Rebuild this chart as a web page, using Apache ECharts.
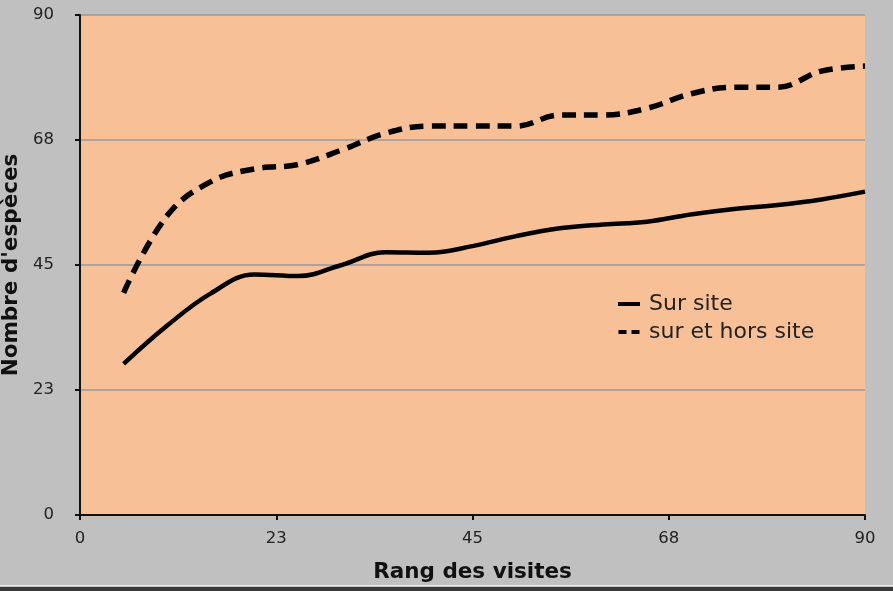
<!DOCTYPE html>
<html>
<head>
<meta charset="utf-8">
<script src="https://cdn.jsdelivr.net/npm/echarts@6/dist/echarts.min.js"></script>
<style>
html, body { margin: 0; padding: 0; background: #c0c0c0; }
#main { width: 893px; height: 591px; }
</style>
</head>
<body>
<div id="main"></div>
<script>
// rang des visites
var visites = [5, 10, 15, 20, 25, 30, 35, 40, 45, 50, 55, 60, 65, 70, 75, 80, 85, 90];
// nombre d'especes
var surSite = [27.2, 34.1, 39.9, 43.3, 43.0, 45.0, 47.3, 47.2, 48.4, 50.2, 51.6, 52.3, 52.8, 54.1, 55.1, 55.8, 56.8, 58.2];
var surEtHors = [40.0, 53.9, 60.0, 62.3, 63.1, 65.7, 68.7, 70.0, 70.0, 70.0, 72.0, 72.0, 73.2, 75.8, 77.0, 77.0, 79.9, 80.8];
var ticks = [0, 23, 45, 68, 90];

function pairs(xs, ys) {
    return xs.map(function (x, i) { return [x, ys[i]]; });
}
function tickLabel(v) {
    return String(Math.round(v));
}

var chart = echarts.init(document.getElementById('main'));
var font = 'DejaVu Sans, Verdana, sans-serif';

option = {
    backgroundColor: '#c0c0c0',
    animation: false,
    textStyle: { fontFamily: font },
    grid: {
        left: 80, right: 28, top: 15, bottom: 76,
        outerBoundsMode: 'none',
        containLabel: false,
        show: true,
        backgroundColor: '#f8c096',
        borderWidth: 0
    },
    legend: {
        orient: 'vertical',
        left: 613,
        top: 287,
        itemWidth: 22,
        itemHeight: 4,
        itemGap: 4,
        textStyle: { fontFamily: font, fontSize: 22, color: '#222', lineHeight: 24, padding: [0, 0, 0, 4] },
        data: [
            { name: 'Sur site', icon: 'rect' },
            { name: 'sur et hors site', icon: 'path://M0,0H8V4H0Z M13,0H21V4H13Z' }
        ]
    },
    xAxis: {
        type: 'value',
        min: 0,
        max: 90,
        interval: 22.5,
        name: 'Rang des visites',
        nameLocation: 'middle',
        nameGap: 46,
        nameTextStyle: { fontFamily: font, fontSize: 21.5, fontWeight: 'bold', color: '#111' },
        axisLine: { lineStyle: { color: '#111', width: 2 } },
        axisTick: { show: true, length: 5, lineStyle: { color: '#111', width: 2 } },
        axisLabel: { fontSize: 16.5, color: '#222', margin: 15, formatter: tickLabel },
        splitLine: { show: false }
    },
    yAxis: {
        type: 'value',
        min: 0,
        max: 90,
        interval: 22.5,
        name: "Nombre d'espèces",
        nameLocation: 'middle',
        nameGap: 57,
        nameTextStyle: { fontFamily: font, fontSize: 21.5, fontWeight: 'bold', color: '#111' },
        axisLine: { show: true, lineStyle: { color: '#111', width: 2 } },
        axisTick: { show: true, length: 5, lineStyle: { color: '#111', width: 2 } },
        axisLabel: { fontSize: 16.5, color: '#222', margin: 26, formatter: tickLabel },
        splitLine: { show: true, lineStyle: { color: '#999', width: 1.5 } }
    },
    series: [
        {
            name: 'Sur site',
            type: 'line',
            smooth: 0.4,
            showSymbol: false,
            symbol: 'none',
            color: '#000',
            lineStyle: { color: '#000', width: 4.5 },
            data: pairs(visites, surSite)
        },
        {
            name: 'sur et hors site',
            type: 'line',
            smooth: 0.4,
            showSymbol: false,
            symbol: 'none',
            color: '#000',
            lineStyle: { color: '#000', width: 5.5, type: [14, 8], cap: 'butt' },
            data: pairs(visites, surEtHors)
        }
    ],
    graphic: [
        { type: 'rect', left: 0, top: 585, shape: { width: 893, height: 1 }, style: { fill: '#eeeeee' }, silent: true },
        { type: 'rect', left: 0, top: 587, shape: { width: 893, height: 4 }, style: { fill: '#3a3a3a' }, silent: true }
    ]
};
chart.setOption(option);
</script>
</body>
</html>
